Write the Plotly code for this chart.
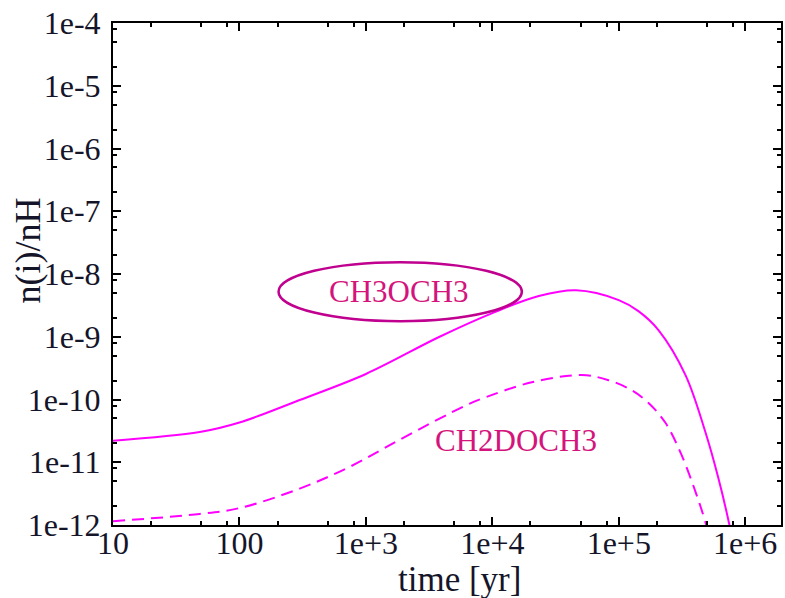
import plotly.graph_objects as go

# ---- data ----
t_ch3 = [10, 48.5, 100, 299, 1000, 3790, 10000, 23300, 46000, 100000, 143000,
         206000, 337000, 484000, 613000, 750000, 800000]
y_ch3 = [2.21e-11, 3.03e-11, 4.3e-11, 9.8e-11, 2.55e-10, 9.9e-10, 2.38e-9, 4.45e-9,
         5.5e-9, 3.84e-9, 2.56e-9, 1.28e-9, 2.45e-10, 3.03e-11, 5.6e-12, 1.0e-12, 5e-13]

t_ch2d = [10, 48.5, 100, 299, 740, 1830, 6200, 8250, 20500, 51000, 83000, 126000,
          172000, 234000, 313000, 426000, 492000, 530000]
y_ch2d = [1.15e-12, 1.5e-12, 1.86e-12, 3.8e-12, 8.4e-12, 2.26e-11, 8.1e-11,
          1.03e-10, 1.88e-10, 2.45e-10, 2.03e-10, 1.41e-10, 8.8e-11, 4.25e-11,
          1.32e-11, 2.5e-12, 1.0e-12, 6e-13]

x_major = [10, 100, 1e3, 1e4, 1e5, 1e6]
x_major_text = ["10", "100", "1e+3", "1e+4", "1e+5", "1e+6"]
y_major = [1e-4, 1e-5, 1e-6, 1e-7, 1e-8, 1e-9, 1e-10, 1e-11, 1e-12]
y_major_text = ["1e-4", "1e-5", "1e-6", "1e-7", "1e-8", "1e-9", "1e-10", "1e-11", "1e-12"]
minor_mult = [2, 5, 8]

x_minor = [m * d for d in [10, 100, 1e3, 1e4, 1e5, 1e6] for m in minor_mult]
y_minor = [m * d for d in [1e-12, 1e-11, 1e-10, 1e-9, 1e-8, 1e-7, 1e-6, 1e-5] for m in minor_mult]

LINE = "#ff00ff"
TXT = "#15152a"
SERIF = "Liberation Serif"

fig = go.Figure()
fig.add_trace(go.Scatter(x=t_ch3, y=y_ch3, mode="lines", line=dict(color=LINE, width=2),
                         line_shape="spline", name="CH3OCH3"))
fig.add_trace(go.Scatter(x=t_ch2d, y=y_ch2d, mode="lines",
                         line=dict(color=LINE, width=2, dash="12px,7px"),
                         line_shape="spline", name="CH2DOCH3"))

axis_common = dict(
    showgrid=False, zeroline=False, showline=True, linecolor="black", linewidth=2,
    mirror="allticks", ticks="inside", ticklen=8, tickwidth=1.5, tickcolor="black",
    tickfont=dict(family=SERIF, size=32, color=TXT),
)
fig.update_xaxes(type="log", range=[1, 6.283], tickvals=x_major, ticktext=x_major_text,
                 minor=dict(tickvals=x_minor, ticks="inside", ticklen=4, tickwidth=1.5,
                            tickcolor="black", showgrid=False),
                 ticklabelstandoff=-11, **axis_common)
fig.update_yaxes(type="log", range=[-12, -4], tickvals=y_major, ticktext=y_major_text,
                 minor=dict(tickvals=y_minor, ticks="inside", ticklen=4, tickwidth=1.5,
                            tickcolor="black", showgrid=False),
                 ticklabelstandoff=4, **axis_common)

fig.add_shape(type="circle", xref="paper", yref="paper",
              x0=0.2478, x1=0.612, y0=0.406, y1=0.5236,
              line=dict(color="#c0008f", width=2.5))

fig.add_annotation(text="CH3OCH3", xref="paper", yref="paper", x=0.428, y=0.466,
                   xanchor="center", yanchor="middle",
                   showarrow=False, font=dict(family=SERIF, size=31, color="#d4147c"))
fig.add_annotation(text="CH2DOCH3", xref="paper", yref="paper", x=0.603, y=0.169,
                   xanchor="center", yanchor="middle",
                   showarrow=False, font=dict(family=SERIF, size=31, color="#d4147c"))
fig.add_annotation(text="time [yr]", xref="paper", yref="paper", x=0.518, y=-0.108,
                   xanchor="center", yanchor="middle",
                   showarrow=False, font=dict(family=SERIF, size=35, color=TXT))
fig.add_annotation(text="n(i)/nH", xref="paper", yref="paper", x=-0.128, y=0.548,
                   xanchor="center", yanchor="middle",
                   textangle=-90, showarrow=False,
                   font=dict(family=SERIF, size=36, color=TXT))

fig.update_layout(width=785, height=598, margin=dict(l=113, r=2, t=23, b=73),
                  paper_bgcolor="white", plot_bgcolor="white", showlegend=False)

fig.write_html("out.html")
